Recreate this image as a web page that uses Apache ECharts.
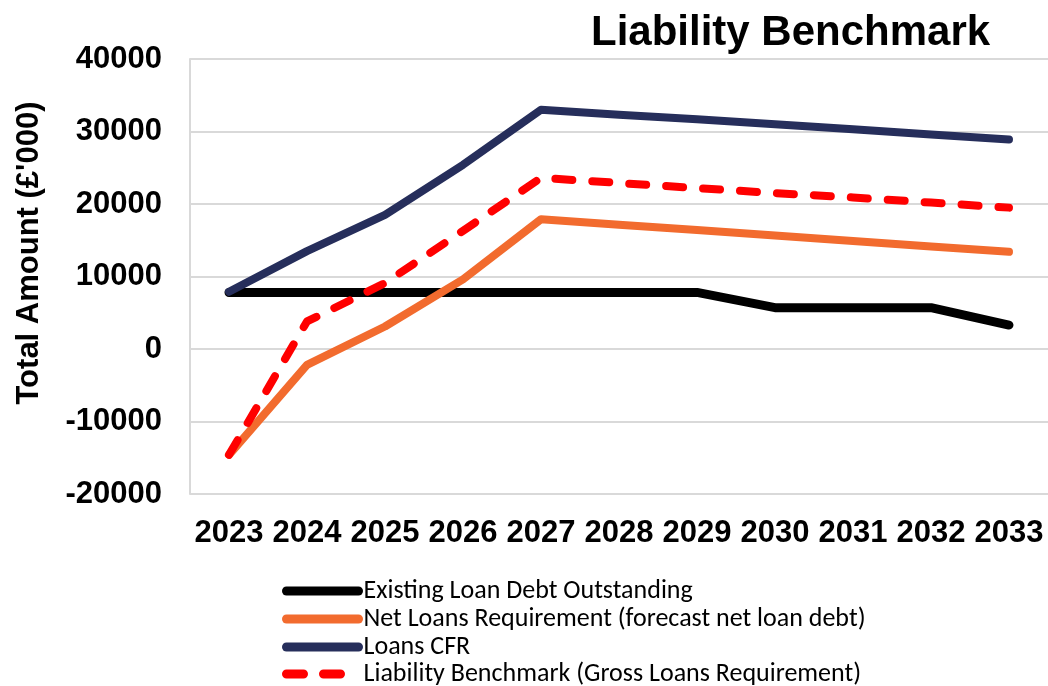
<!DOCTYPE html>
<html>
<head>
<meta charset="utf-8">
<script src="https://cdn.jsdelivr.net/npm/echarts@6/dist/echarts.min.js"></script>
<style>html,body{margin:0;padding:0;background:#fff}#c{width:1048px;height:686px}</style>
</head>
<body>
<div id="c"></div>
<script>
const years = ['2023','2024','2025','2026','2027','2028','2029','2030','2031','2032','2033'];
const existingDebt = [7800, 7800, 7800, 7800, 7800, 7800, 7800, 5700, 5700, 5700, 3300];
const netLoans = [-14600, -2200, 3100, 9600, 17900, 17150, 16400, 15650, 14900, 14150, 13400];
const loansCFR = [7900, 13500, 18500, 25400, 33000, 32300, 31700, 31000, 30300, 29600, 28900];
const liabilityBenchmark = [-14600, 3800, 9100, 16300, 23600, 22900, 22200, 21500, 20900, 20200, 19500];
const seriesNames = ['Existing Loan Debt Outstanding','Net Loans Requirement (forecast net loan debt)','Loans CFR','Liability Benchmark (Gross Loans Requirement)'];
const seriesColors = ['#000000', '#F26B2E', '#262E5B', '#FF0000'];
const yTicks = {min: -20000, max: 40000, interval: 10000};

const chart = echarts.init(document.getElementById('c'), null, {renderer: 'canvas'});
const axisFont = {fontFamily: 'Liberation Sans, Arial, sans-serif', fontWeight: 'bold', fontSize: 31, color: '#000'};
const hiddenSymbol = {color: 'rgba(0,0,0,0)', borderWidth: 0, opacity: 0};
const legendTops = [578, 606, 634, 661];
const legends = seriesNames.map((name, i) => ({
  orient: 'vertical', left: 282, top: legendTops[i], padding: 0,
  itemWidth: 72, itemHeight: 14, itemGap: 0,
  textStyle: {fontFamily: 'Carlito, Noto Sans, sans-serif', fontSize: 26, color: '#000'},
  data: [{
    name: name,
    lineStyle: {width: 9, color: seriesColors[i], type: i === 3 ? [17, 20] : 'solid', cap: 'round'},
    itemStyle: hiddenSymbol
  }]
}));
chart.setOption({
  animation: false,
  backgroundColor: '#fff',
  title: {
    text: 'Liability Benchmark',
    left: 591, top: 12, padding: 0,
    textStyle: {fontFamily: 'Liberation Sans, Arial, sans-serif', fontWeight: 'bold', fontSize: 42, color: '#000'}
  },
  graphic: [{
    type: 'text', x: 29, y: 253, rotation: Math.PI / 2,
    style: {text: "Total Amount (\u00a3'000)", x: 0, y: 0, align: 'center', verticalAlign: 'middle',
      font: "bold 31px 'Liberation Sans', Arial, sans-serif", fill: '#000'}
  }],
  legend: legends,
  grid: {left: 190, right: 0, top: 59, bottom: 192, containLabel: false},
  xAxis: {
    type: 'category', data: years, boundaryGap: true,
    axisLine: {show: false}, axisTick: {show: false},
    axisLabel: Object.assign({margin: 24, interval: 0}, axisFont),
    splitLine: {show: false}
  },
  yAxis: {
    type: 'value', min: yTicks.min, max: yTicks.max, interval: yTicks.interval,
    axisLine: {show: true, lineStyle: {color: '#d9d9d9', width: 2}},
    axisTick: {show: false},
    axisLabel: Object.assign({margin: 28, formatter: v => String(v)}, axisFont),
    splitLine: {lineStyle: {color: '#d9d9d9', width: 2}}
  },
  series: [
    {name: seriesNames[0], type: 'line', data: existingDebt, symbol: 'none', z: 2,
      lineStyle: {color: seriesColors[0], width: 9, cap: 'round', join: 'round'}, itemStyle: {color: seriesColors[0]}},
    {name: seriesNames[1], type: 'line', data: netLoans, symbol: 'none', z: 3,
      lineStyle: {color: seriesColors[1], width: 8, cap: 'round', join: 'round'}, itemStyle: {color: seriesColors[1]}},
    {name: seriesNames[2], type: 'line', data: loansCFR, symbol: 'none', z: 4,
      lineStyle: {color: seriesColors[2], width: 8, cap: 'round', join: 'round'}, itemStyle: {color: seriesColors[2]}},
    {name: seriesNames[3], type: 'line', data: liabilityBenchmark, symbol: 'none', z: 5,
      lineStyle: {color: seriesColors[3], width: 8, type: [17, 20], cap: 'round', join: 'round'}, itemStyle: {color: seriesColors[3]}}
  ]
});
</script>
</body>
</html>
